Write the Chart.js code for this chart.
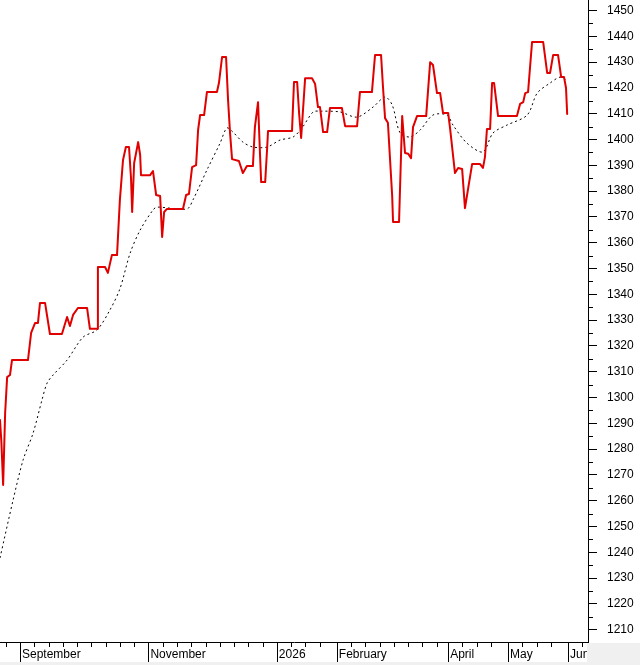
<!DOCTYPE html>
<html>
<head>
<meta charset="utf-8">
<script src="https://cdn.jsdelivr.net/npm/chart.js@4/dist/chart.umd.min.js"></script>
<style>
html,body{margin:0;padding:0;background:#fff;}
#wrap{width:640px;height:665px;position:relative;}
canvas{display:block;}
</style>
</head>
<body>
<div id="wrap"><canvas id="c" width="640" height="665"></canvas></div>
<script>
// x unit = trading session index
const monthTickDays   = [7, 52, 97, 118, 157, 178, 199];
const monthTickLabels = ['September', 'November', '2026', 'February', 'April', 'May', 'Jun'];
const weekTickDays = [2, 12, 17, 22, 27, 32, 37, 42, 47,
                      57, 62, 67, 72, 77, 82, 87, 92,
                      102, 107, 112,
                      123, 128, 133, 138, 143, 148, 153,
                      162, 167, 172,
                      183, 188, 193, 204];
const priceTicks = [1210, 1220, 1230, 1240, 1250, 1260, 1270, 1280, 1290, 1300, 1310, 1320, 1330,
                    1340, 1350, 1360, 1370, 1380, 1390, 1400, 1410, 1420, 1430, 1440, 1450];

const closeDays = [
  0, 0.5, 1.1, 1.4, 1.8, 2.5, 3.5, 4.2, 9.8, 10.9,
  12.3, 13.3, 14.0, 15.8, 17.5, 21.7, 23.5, 24.5, 25.6, 27.3,
  30.5, 31.5, 34.0, 34.3, 36.8, 37.8, 39.2, 41.0, 42.0, 43.1,
  44.1, 45.2, 45.9, 46.3, 47.0, 48.4, 49.1, 49.4, 52.6, 53.6,
  54.7, 56.1, 56.8, 57.5, 58.5, 64.1, 65.2, 66.2, 67.3, 68.7,
  69.4, 70.1, 71.5, 72.5, 76.0, 76.7, 77.8, 79.2, 79.9, 80.6,
  81.3, 83.7, 85.1, 86.5, 88.6, 89.3, 90.4, 91.1, 91.5, 92.9,
  93.6, 93.9, 102.3, 103.0, 104.1, 104.8, 105.5, 106.9, 109.3, 110.4,
  111.4, 112.1, 113.2, 114.6, 115.6, 119.8, 120.9, 125.1, 126.1, 130.3,
  131.4, 133.5, 134.2, 134.9, 135.9, 137.4, 137.7, 139.8, 140.9, 141.9,
  143.0, 144.0, 144.7, 146.1, 149.3, 150.7, 151.7, 153.1, 154.2, 155.2,
  157.0, 157.7, 159.4, 160.5, 161.9, 162.9, 164.0, 165.4, 168.2, 169.2,
  169.9, 170.6, 171.7, 172.4, 173.1, 174.5, 181.1, 182.2, 183.3, 184.0,
  185.0, 186.4, 190.3, 191.7, 192.7, 193.8, 195.5, 196.6, 197.6, 198.3,
  198.7
];
const closeValues = [
  1291.3, 1282.4, 1266.1, 1266.1, 1294.0, 1307.9, 1308.7, 1314.5, 1314.5, 1325.0,
  1328.9, 1328.9, 1336.6, 1336.6, 1324.6, 1324.6, 1331.2, 1327.7, 1332.0, 1334.7,
  1334.7, 1326.6, 1326.6, 1350.6, 1350.6, 1348.3, 1355.2, 1355.2, 1376.6, 1392.1,
  1397.1, 1397.1, 1385.0, 1371.9, 1390.9, 1399.0, 1394.0, 1386.2, 1386.2, 1387.8,
  1378.5, 1378.1, 1362.2, 1371.9, 1373.1, 1373.1, 1378.5, 1378.9, 1389.3, 1390.1,
  1403.7, 1409.5, 1409.5, 1418.4, 1418.4, 1421.9, 1432.0, 1432.0, 1415.3, 1402.5,
  1392.4, 1391.7, 1387.0, 1389.7, 1389.7, 1404.8, 1414.5, 1394.0, 1383.5, 1383.5,
  1396.8, 1403.3, 1403.3, 1422.3, 1422.3, 1410.0, 1400.6, 1423.8, 1423.8, 1421.5,
  1412.6, 1412.6, 1402.9, 1402.9, 1412.2, 1412.2, 1405.2, 1405.2, 1418.4, 1418.4,
  1432.8, 1432.8, 1420.0, 1408.3, 1406.5, 1378.0, 1368.0, 1368.0, 1409.1, 1394.8,
  1394.5, 1392.8, 1404.8, 1409.1, 1409.1, 1430.0, 1428.9, 1418.0, 1418.0, 1410.3,
  1410.3, 1404.1, 1387.0, 1389.0, 1388.6, 1373.4, 1381.0, 1390.5, 1390.5, 1389.0,
  1393.2, 1404.1, 1404.1, 1421.9, 1421.9, 1409.1, 1409.1, 1413.8, 1414.5, 1418.0,
  1418.4, 1437.8, 1437.8, 1425.8, 1425.8, 1432.8, 1432.8, 1424.2, 1424.2, 1420.0,
  1409.9
];

const avgDays = [0, 4.6, 8.1, 11.6, 14.7, 16.5, 18.6, 23.5, 29.1, 34.0,
                 38.5, 42.0, 45.6, 49.1, 53.6, 55.0, 65.5, 67.6, 72.5, 77.1,
                 79.5, 81.6, 85.1, 88.6, 93.6, 98.1, 102.7, 105.8, 109.7, 112.1,
                 119.1, 125.1, 130.7, 134.9, 137.4, 140.2, 143.7, 147.2, 151.7, 156.6,
                 158.7, 163.6, 169.2, 172.7, 177.6, 184.7, 188.2, 192.7, 196.2, 198.7];
const avgValues = [1237.8, 1260.3, 1275.8, 1286.2, 1299.0, 1305.6, 1308.7, 1314.5, 1323.4, 1326.2,
                   1333.9, 1342.1, 1356.0, 1364.9, 1372.7, 1373.8, 1373.1, 1376.6, 1388.2, 1398.6,
                   1404.5, 1402.9, 1399.0, 1397.1, 1397.1, 1399.8, 1401.0, 1404.5, 1410.7, 1411.0,
                   1410.7, 1408.7, 1412.6, 1416.5, 1413.4, 1402.5, 1401.0, 1403.7, 1409.5, 1409.5,
                   1405.6, 1398.6, 1395.2, 1402.5, 1405.6, 1409.5, 1418.0, 1421.9, 1424.2, 1423.0];

const FONT = '"Liberation Sans", Arial, sans-serif';

const extrasPlugin = {
  id: 'extras',
  beforeDraw(chart) {
    const ctx = chart.ctx;
    ctx.save();
    ctx.fillStyle = '#ffffff';
    ctx.fillRect(0, 0, chart.width, chart.height);
    ctx.restore();
  },
  afterDraw(chart) {
    const ctx = chart.ctx, a = chart.chartArea, xs = chart.scales.x, ys = chart.scales.y;
    ctx.save();
    ctx.fillStyle = '#f0f0f0';
    ctx.fillRect(a.right - 1, a.bottom + 1, chart.width - a.right + 1, chart.height - a.bottom - 1);
    ctx.fillRect(0, chart.height - 3, chart.width, 3);
    ctx.strokeStyle = '#000';
    ctx.lineWidth = 1;
    ctx.beginPath();
    ctx.moveTo(a.right + 0.5, a.top); ctx.lineTo(a.right + 0.5, a.bottom + 1);
    priceTicks.forEach(v => {
      const p = Math.round(ys.getPixelForValue(v + 5)) + 0.5;
      if (p > a.top) { ctx.moveTo(a.right, p); ctx.lineTo(a.right + 5, p); }
    });
    weekTickDays.forEach(d => {
      const p = Math.round(xs.getPixelForValue(d)) + 0.5;
      if (p < a.right) { ctx.moveTo(p, a.bottom); ctx.lineTo(p, a.bottom + 5); }
    });
    monthTickDays.forEach(d => {
      const p = Math.round(xs.getPixelForValue(d)) + 0.5;
      ctx.moveTo(p, a.bottom); ctx.lineTo(p, a.bottom + 20);
    });
    ctx.stroke();
    ctx.restore();
  }
};

new Chart(document.getElementById('c'), {
  type: 'line',
  data: {
    datasets: [
      {
        label: 'Close',
        data: closeDays.map((d, i) => ({ x: d, y: closeValues[i] })),
        borderColor: '#e00000',
        borderWidth: 2,
        borderJoinStyle: 'round',
        borderCapStyle: 'round',
        pointRadius: 0,
        tension: 0,
        fill: false,
        order: 1
      },
      {
        label: 'Average',
        data: avgDays.map((d, i) => ({ x: d, y: avgValues[i] })),
        borderColor: '#000000',
        borderWidth: 1,
        borderDash: [2, 3],
        pointRadius: 0,
        tension: 0.3,
        fill: false,
        order: 2
      }
    ]
  },
  options: {
    responsive: false,
    animation: false,
    devicePixelRatio: 1,
    layout: { padding: 0 },
    plugins: { legend: { display: false }, tooltip: { enabled: false }, title: { display: false } },
    scales: {
      x: {
        type: 'linear',
        position: 'bottom',
        min: 0,
        max: 206,
        afterBuildTicks: s => { s.ticks = monthTickDays.map(v => ({ value: v })); },
        afterFit: s => { s.height = 23; s.paddingLeft = 0; s.paddingRight = 0; },
        ticks: {
          autoSkip: false, maxRotation: 0, minRotation: 0,
          align: 'start', labelOffset: 2, padding: 5,
          color: '#000', font: { family: FONT, size: 12 },
          callback: (v, i) => monthTickLabels[i]
        },
        grid: { display: true, drawOnChartArea: false, drawTicks: false, color: '#000' },
        border: { display: true, color: '#000', width: 1 }
      },
      y: {
        type: 'linear',
        position: 'right',
        min: 1205.2,
        max: 1454.1,
        afterBuildTicks: s => { s.ticks = priceTicks.map(v => ({ value: v })); },
        afterFit: s => { s.width = 52; s.paddingTop = 0; s.paddingBottom = 0; },
        ticks: {
          padding: 10, color: '#000', font: { family: FONT, size: 12 },
          callback: v => String(v)
        },
        grid: { display: true, drawOnChartArea: false, drawTicks: true, tickLength: 9, tickColor: '#000', color: '#000' },
        border: { display: true, color: '#000', width: 1 }
      }
    }
  },
  plugins: [extrasPlugin]
});
</script>
</body>
</html>
